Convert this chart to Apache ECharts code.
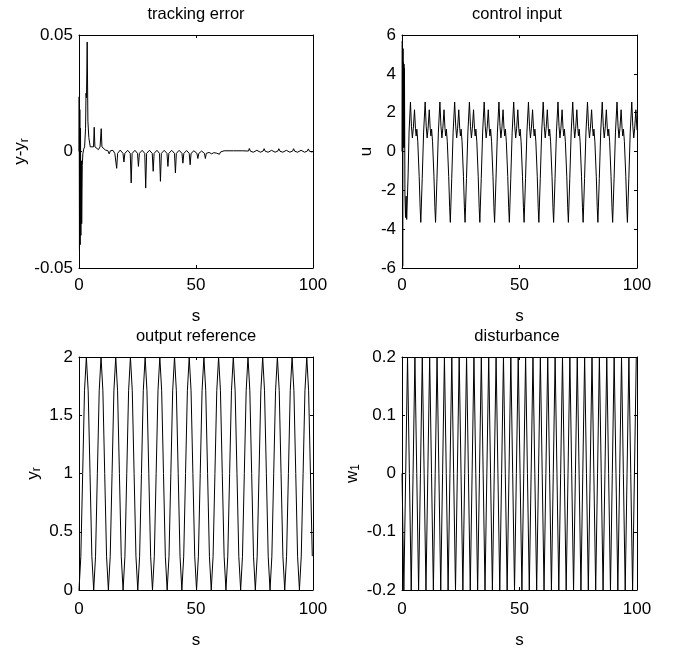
<!DOCTYPE html>
<html><head><meta charset="utf-8">
<script src="https://cdn.jsdelivr.net/npm/echarts@6/dist/echarts.min.js"></script>
<style>html,body{margin:0;padding:0;background:#fff}#c{width:675px;height:655px}</style>
</head><body><div id="c"></div>
<script>
// ---------------- data ----------------
const panelTitles = ['tracking error', 'control input', 'output reference', 'disturbance'];
const xTickStep = 50;            // x ticks 0, 50, 100 (s)
const yLimits = [[-0.05, 0.05, 0.05], [-6, 6, 2], [0, 2, 0.5], [-0.2, 0.2, 0.1]];

// tracking error y - y_r : [t, value]
const trackingError = [
[0,0],[0.08,0.0235],[0.2,-0.042],[0.35,0.018],[0.5,-0.040],[0.65,0.010],[0.8,-0.036],[1.0,-0.004],[1.15,-0.031],[1.4,-0.006],[1.65,-0.001],[2.0,0.001],[2.4,0.002],[2.8,0.010],[3.0,0.025],[3.2,0.023],[3.5,0.047],[3.8,0.013],[4.2,0.006],[4.8,0.002],[5.5,0.0015],[6.2,0.002],[6.5,0.0104],[6.8,0.002],[7.5,0.0015],[8.3,0.0008],[9.0,0.002],[9.5,0.0098],[9.8,0.002],[10.5,0.0012],[11.3,0.0006],[12.3,0.0004],[12.9,-0.001],[13.4,0.0003],[14.5,0.0005],
[15.3,-0.0008],[16.1,-0.0072],[16.5,-0.0008],[17.6,0.0006],[18.8,-0.0008],[19.2,-0.0045],[19.6,-0.0008],[20.8,0.0005],[21.9,-0.0008],[22.3,-0.0135],[22.7,-0.0008],[23.9,0.0005],[25.0,-0.0008],[25.4,-0.0064],[25.8,-0.0008],[27.0,0.0005],[28.1,-0.0008],[28.5,-0.0157],[28.9,-0.0008],[30.1,0.0005],[31.3,-0.0008],[31.7,-0.0085],[32.1,-0.0008],[33.3,0.0005],[34.4,-0.0008],[34.8,-0.0128],[35.2,-0.0008],[36.4,0.0005],[37.6,-0.0008],[38.0,-0.0064],[38.4,-0.0008],[39.6,0.0005],[40.8,-0.0008],[41.2,-0.0092],[41.6,-0.0008],[42.8,0.0005],[44.0,-0.0008],[44.4,-0.0050],[44.8,-0.0008],[46.0,0.0004],[47.1,-0.0008],[47.5,-0.0057],[47.9,-0.0008],[49.1,0.0003],[50.4,-0.0008],[50.8,-0.0030],[51.2,-0.0008],[52.4,0.0002],[53.6,-0.0008],[54.0,-0.0030],[54.4,-0.0008],[55.6,-0.0004],[56.7,-0.0010],[57.1,-0.0016],[57.6,-0.0005],[58.8,-0.0007],[60.0,-0.0012],[60.5,-0.0002],[62.0,0.0003],[66.0,0.0003],[70.0,0.0003],
[72.4,0.0002],[72.8,0.0013],[73.3,0.0001],[74.5,-0.0003],[76.0,0.0005],[77.5,-0.0003],[78.7,0.0002],[79.1,0.0012],[79.6,0.0001],[80.8,-0.0003],[82.3,0.0005],[83.8,-0.0003],[85.0,0.0002],[85.4,0.0012],[85.9,0.0001],[87.1,-0.0003],[88.6,0.0005],[90.1,-0.0003],[91.3,0.0002],[91.7,0.0012],[92.2,0.0001],[93.4,-0.0003],[94.9,0.0005],[96.4,-0.0003],[97.6,0.0002],[98.0,0.0011],[98.5,0.0001],[99.5,-0.0002],[100,0]
];

// control input u : [t, value]
const controlInput = [
[0,0],[0.12,5.7],[0.3,-5.9],[0.45,5.3],[0.55,0.2],[0.65,4.6],[0.75,0.3],[0.85,4.5],[0.95,0.2],[1.05,4.3],[1.25,-2.2],[1.5,-3.4],[1.75,-2.3],[2.0,-3.5],[2.6,-1.2],[3.0,1.0],[3.6,2.55],
[4.02,1.3],[4.42,0.7],[4.82,1.2],[5.32,2.15],[5.72,1.2],[6.02,0.8],[6.32,1.15],[6.72,0.5],[7.32,-1.3],[7.72,-2.9],
[8.0,-3.65],[8.6,-1.4],[9.2,1.0],[9.85,2.55],[10.3,1.3],[10.7,0.7],[11.1,1.2],[11.6,2.15],[12.0,1.2],[12.3,0.8],[12.6,1.15],[13.0,0.5],[13.6,-1.3],[14.0,-2.9],
[14.28,-3.65],[14.88,-1.4],[15.48,1.0],[16.13,2.55],[16.58,1.3],[16.98,0.7],[17.38,1.2],[17.88,2.15],[18.28,1.2],[18.58,0.8],[18.88,1.15],[19.28,0.5],[19.88,-1.3],[20.28,-2.9],
[20.56,-3.65],[21.16,-1.4],[21.76,1.0],[22.41,2.55],[22.86,1.3],[23.26,0.7],[23.66,1.2],[24.16,2.15],[24.56,1.2],[24.86,0.8],[25.16,1.15],[25.56,0.5],[26.16,-1.3],[26.56,-2.9],
[26.84,-3.65],[27.44,-1.4],[28.04,1.0],[28.69,2.55],[29.14,1.3],[29.54,0.7],[29.94,1.2],[30.44,2.15],[30.84,1.2],[31.14,0.8],[31.44,1.15],[31.84,0.5],[32.44,-1.3],[32.84,-2.9],
[33.12,-3.65],[33.72,-1.4],[34.32,1.0],[34.97,2.55],[35.42,1.3],[35.82,0.7],[36.22,1.2],[36.72,2.15],[37.12,1.2],[37.42,0.8],[37.72,1.15],[38.12,0.5],[38.72,-1.3],[39.12,-2.9],
[39.4,-3.65],[40.0,-1.4],[40.6,1.0],[41.25,2.55],[41.7,1.3],[42.1,0.7],[42.5,1.2],[43.0,2.15],[43.4,1.2],[43.7,0.8],[44.0,1.15],[44.4,0.5],[45.0,-1.3],[45.4,-2.9],
[45.68,-3.65],[46.28,-1.4],[46.88,1.0],[47.53,2.55],[47.98,1.3],[48.38,0.7],[48.78,1.2],[49.28,2.15],[49.68,1.2],[49.98,0.8],[50.28,1.15],[50.68,0.5],[51.28,-1.3],[51.68,-2.9],
[51.96,-3.65],[52.56,-1.4],[53.16,1.0],[53.81,2.55],[54.26,1.3],[54.66,0.7],[55.06,1.2],[55.56,2.15],[55.96,1.2],[56.26,0.8],[56.56,1.15],[56.96,0.5],[57.56,-1.3],[57.96,-2.9],
[58.24,-3.65],[58.84,-1.4],[59.44,1.0],[60.09,2.55],[60.54,1.3],[60.94,0.7],[61.34,1.2],[61.84,2.15],[62.24,1.2],[62.54,0.8],[62.84,1.15],[63.24,0.5],[63.84,-1.3],[64.24,-2.9],
[64.52,-3.65],[65.12,-1.4],[65.72,1.0],[66.37,2.55],[66.82,1.3],[67.22,0.7],[67.62,1.2],[68.12,2.15],[68.52,1.2],[68.82,0.8],[69.12,1.15],[69.52,0.5],[70.12,-1.3],[70.52,-2.9],
[70.8,-3.65],[71.4,-1.4],[72.0,1.0],[72.65,2.55],[73.1,1.3],[73.5,0.7],[73.9,1.2],[74.4,2.15],[74.8,1.2],[75.1,0.8],[75.4,1.15],[75.8,0.5],[76.4,-1.3],[76.8,-2.9],
[77.08,-3.65],[77.68,-1.4],[78.28,1.0],[78.93,2.55],[79.38,1.3],[79.78,0.7],[80.18,1.2],[80.68,2.15],[81.08,1.2],[81.38,0.8],[81.68,1.15],[82.08,0.5],[82.68,-1.3],[83.08,-2.9],
[83.36,-3.65],[83.96,-1.4],[84.56,1.0],[85.21,2.55],[85.66,1.3],[86.06,0.7],[86.46,1.2],[86.96,2.15],[87.36,1.2],[87.66,0.8],[87.96,1.15],[88.36,0.5],[88.96,-1.3],[89.36,-2.9],
[89.64,-3.65],[90.24,-1.4],[90.84,1.0],[91.49,2.55],[91.94,1.3],[92.34,0.7],[92.74,1.2],[93.24,2.15],[93.64,1.2],[93.94,0.8],[94.24,1.15],[94.64,0.5],[95.24,-1.3],[95.64,-2.9],
[95.92,-3.65],[96.52,-1.4],[97.12,1.0],[97.77,2.55],[98.22,1.3],[98.62,0.7],[99.02,1.2],[99.52,2.15],[100,1.1]
];

// output reference y_r and disturbance w_1, sampled on a uniform time grid
const sampleStep = 0.785; // s
const outputReference = [
0,0.29,1,1.71,2,1.71,1,0.29, 0,0.29,1,1.71,2,1.71,1,0.29, 0,0.29,1,1.71,2,1.71,1,0.29, 0,0.29,1,1.71,2,1.71,1,0.29,
0,0.29,1,1.71,2,1.71,1,0.29, 0,0.29,1,1.71,2,1.71,1,0.29, 0,0.29,1,1.71,2,1.71,1,0.29, 0,0.29,1,1.71,2,1.71,1,0.29,
0,0.29,1,1.71,2,1.71,1,0.29, 0,0.29,1,1.71,2,1.71,1,0.29, 0,0.29,1,1.71,2,1.71,1,0.29, 0,0.29,1,1.71,2,1.71,1,0.29,
0,0.29,1,1.71,2,1.71,1,0.29, 0,0.29,1,1.71,2,1.71,1,0.29, 0,0.29,1,1.71,2,1.71,1,0.29, 0,0.29,1,1.71,2,1.71,1,0.29
];
const disturbance = [
0,-0.2,0,0.2, 0,-0.2,0,0.2, 0,-0.2,0,0.2, 0,-0.2,0,0.2, 0,-0.2,0,0.2, 0,-0.2,0,0.2, 0,-0.2,0,0.2, 0,-0.2,0,0.2,
0,-0.2,0,0.2, 0,-0.2,0,0.2, 0,-0.2,0,0.2, 0,-0.2,0,0.2, 0,-0.2,0,0.2, 0,-0.2,0,0.2, 0,-0.2,0,0.2, 0,-0.2,0,0.2,
0,-0.2,0,0.2, 0,-0.2,0,0.2, 0,-0.2,0,0.2, 0,-0.2,0,0.2, 0,-0.2,0,0.2, 0,-0.2,0,0.2, 0,-0.2,0,0.2, 0,-0.2,0,0.2,
0,-0.2,0,0.2, 0,-0.2,0,0.2, 0,-0.2,0,0.2, 0,-0.2,0,0.2, 0,-0.2,0,0.2, 0,-0.2,0,0.2, 0,-0.2,0,0.2, 0,-0.2,0,0.2
];

// ---------------- chart ----------------
const FONT = "'Liberation Sans', Arial, Helvetica, sans-serif";
const BLACK = '#000';
const grids = [
  {left: 79, top: 35, width: 234, height: 233},
  {left: 402, top: 35, width: 235, height: 233},
  {left: 79, top: 357, width: 234, height: 233},
  {left: 402, top: 357, width: 235, height: 233}
];
const yNames = ['{m|y-y}{s|r}', '{m|u}', '{m|y}{s|r}', '{m|w}{s|1}'];
const yNameGaps = [47, 26, 36, 40];
const xLabelMargins = [9, 9, 11, 11];
const xNameGaps = [40, 40, 42, 42];
const titlePos = [[196, 14], [517, 14], [196, 336], [517, 336]];
const seriesData = [
  trackingError,
  controlInput,
  outputReference.map((v, i) => [i * sampleStep, v]),
  disturbance.map((v, i) => [i * sampleStep, v])
];

const lineSt = {color: BLACK, width: 1};
const xAxis = [], yAxis = [], series = [], graphic = [];
grids.forEach((g, i) => {
  const [ymin, ymax, yint] = yLimits[i];
  xAxis.push({
    gridIndex: i, type: 'value', min: 0, max: 100, interval: xTickStep, position: 'bottom',
    name: 's', nameLocation: 'middle', nameGap: xNameGaps[i],
    nameTextStyle: {fontSize: 17, color: BLACK, fontFamily: FONT},
    axisLine: {onZero: false, lineStyle: lineSt},
    axisTick: {inside: true, length: 3, lineStyle: lineSt},
    axisLabel: {margin: xLabelMargins[i], fontSize: 17, color: BLACK, fontFamily: FONT},
    splitLine: {show: false}
  });
  xAxis.push({
    gridIndex: i, type: 'value', min: 0, max: 100, interval: xTickStep, position: 'top',
    axisLine: {onZero: false, lineStyle: lineSt},
    axisTick: {inside: true, length: 3, lineStyle: lineSt},
    axisLabel: {show: false}, splitLine: {show: false}
  });
  yAxis.push({
    gridIndex: i, type: 'value', min: ymin, max: ymax, interval: yint, position: 'left',
    name: yNames[i], nameLocation: 'middle', nameGap: yNameGaps[i], nameRotate: 90,
    nameTextStyle: {
      color: BLACK, fontFamily: FONT,
      rich: {
        m: {fontSize: 17, lineHeight: 20, color: BLACK, fontFamily: FONT},
        s: {fontSize: 12, lineHeight: 12, verticalAlign: 'bottom', color: BLACK, fontFamily: FONT}
      }
    },
    axisLine: {onZero: false, lineStyle: lineSt},
    axisTick: {inside: true, length: 3, lineStyle: lineSt},
    axisLabel: {margin: 6, fontSize: 17, color: BLACK, fontFamily: FONT},
    splitLine: {show: false}
  });
  yAxis.push({
    gridIndex: i, type: 'value', min: ymin, max: ymax, interval: yint, position: 'right',
    axisLine: {onZero: false, lineStyle: lineSt},
    axisTick: {inside: true, length: 3, lineStyle: lineSt},
    axisLabel: {show: false}, splitLine: {show: false}
  });
  series.push({
    type: 'line', xAxisIndex: 2 * i, yAxisIndex: 2 * i, data: seriesData[i],
    showSymbol: false, symbol: 'none', lineStyle: {color: BLACK, width: 1},
    silent: true, animation: false
  });
  graphic.push({
    type: 'text', x: titlePos[i][0], y: titlePos[i][1],
    style: {text: panelTitles[i], fill: BLACK, font: '16.5px ' + FONT, textAlign: 'center', textVerticalAlign: 'middle'}
  });
});

const chart = echarts.init(document.getElementById('c'), null, {renderer: 'canvas'});
chart.setOption({
  animation: false,
  backgroundColor: '#fff',
  grid: grids,
  xAxis, yAxis, series, graphic
});
</script>
</body></html>
